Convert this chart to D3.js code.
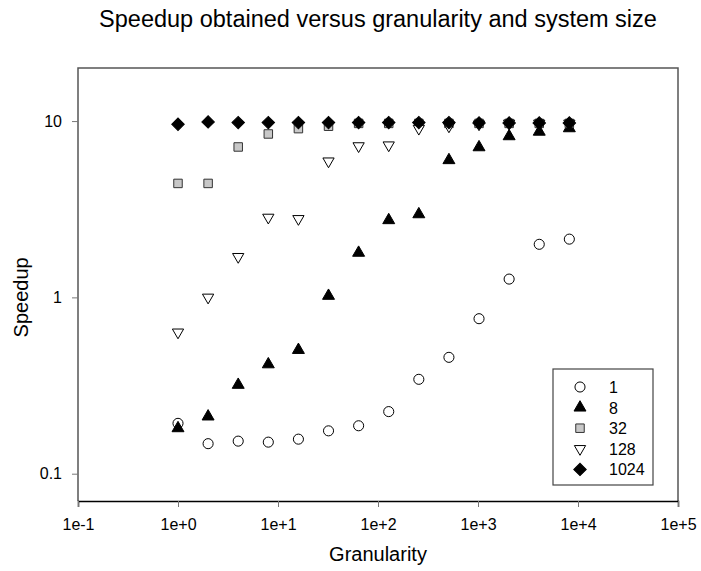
<!DOCTYPE html>
<html>
<head>
<meta charset="utf-8">
<script src="https://cdn.jsdelivr.net/npm/d3@7"></script>
<style>
  body { margin: 0; background: #fff; }
  text { font-family: "Liberation Sans", Arial, sans-serif; fill: #000; }
</style>
</head>
<body>
<svg id="chart" width="701" height="571"></svg>
<script>
// granularity (x) values, powers of two
var granularity = [1, 2, 4, 8, 16, 32, 64, 128, 256, 512, 1024, 2048, 4096, 8192];

// speedup per system size
var size1    = [0.193, 0.148, 0.153, 0.151, 0.157, 0.175, 0.187, 0.225, 0.343, 0.457, 0.757, 1.27, 2.0, 2.14];
var size8    = [0.181, 0.211, 0.319, 0.417, 0.503, 1.02, 1.79, 2.74, 2.96, 6.0, 7.1, 8.2, 8.7, 9.1];
var size32   = [4.43, 4.43, 7.13, 8.45, 9.06, 9.35, 9.7, 9.7, 9.7, 9.7, 9.7, 9.7, 9.7, 9.7];
var size128  = [0.634, 1.0, 1.70, 2.84, 2.79, 5.92, 7.22, 7.3, 9.07, 9.35, 9.6, 9.7, 9.7, 9.7];
var size1024 = [9.59, 9.89, 9.8, 9.8, 9.8, 9.8, 9.8, 9.8, 9.8, 9.8, 9.75, 9.75, 9.75, 9.75];

var seriesNames = ["1", "8", "32", "128", "1024"];
var xTicks = [0.1, 1, 10, 100, 1000, 10000, 100000];
var yTicks = [0.1, 1, 10];

var chartView = (function () {
    var svg = d3.select("#chart");
    var mLeft = 78, mRight = 678, mTop = 68, mBottom = 501;

    var x = d3.scaleLog().domain([0.1, 1e5]).range([mLeft, mRight]);
    var y = d3.scaleLog().domain([0.07, 20]).range([mBottom, mTop]);

    // marker styles
    var styles = [
        {type: d3.symbolCircle, size: 80, rot: 0, fill: "#fff", stroke: "#000"},
        {type: d3.symbolTriangle, size: 62, rot: 0, fill: "#000", stroke: "#000"},
        {type: d3.symbolSquare, size: 72, rot: 0, fill: "#c8c8c8", stroke: "#333"},
        {type: d3.symbolTriangle, size: 55, rot: 180, fill: "#fff", stroke: "#000"},
        {type: d3.symbolSquare, size: 78, rot: 45, fill: "#000", stroke: "#000"}
    ];
    var allSeries = [size1, size8, size32, size128, size1024];

    // frame
    svg.append("path")
        .attr("d", "M" + mLeft + "," + mBottom + "V" + mTop + "H" + mRight + "V" + mBottom)
        .attr("fill", "none")
        .attr("stroke", "#555")
        .attr("stroke-width", 1.5);

    var xAxis = svg.append("g")
        .attr("transform", "translate(0," + mBottom + ")")
        .call(d3.axisBottom(x).tickValues(xTicks).tickFormat(d3.format(".0e")).tickSize(6).tickPadding(12));
    xAxis.select(".domain").attr("stroke", "#000").attr("stroke-width", 1.5);
    xAxis.selectAll(".tick line").attr("stroke", "#777");
    xAxis.selectAll("text").style("font-size", "16px").attr("fill", "#000");

    var yAxis = svg.append("g")
        .attr("transform", "translate(" + mLeft + ",0)")
        .call(d3.axisLeft(y).tickValues(yTicks).tickFormat(d3.format("~g")).tickSize(6).tickPadding(10));
    yAxis.select(".domain").remove();
    yAxis.selectAll(".tick line").attr("stroke", "#777");
    yAxis.selectAll("text").style("font-size", "16px").attr("fill", "#000");

    // titles
    svg.append("text")
        .attr("x", (mLeft + mRight) / 2).attr("y", 27)
        .attr("text-anchor", "middle")
        .style("font-size", "23.5px")
        .text("Speedup obtained versus granularity and system size");

    svg.append("text")
        .attr("x", (mLeft + mRight) / 2).attr("y", 561)
        .attr("text-anchor", "middle")
        .style("font-size", "20px")
        .text("Granularity");

    svg.append("text")
        .attr("transform", "translate(28," + y(1) + ") rotate(-90)")
        .attr("text-anchor", "middle")
        .style("font-size", "20px")
        .text("Speedup");

    // points
    allSeries.forEach(function (vals, i) {
        var st = styles[i];
        var sym = d3.symbol().type(st.type).size(st.size);
        svg.append("g")
            .selectAll("path")
            .data(vals)
            .enter()
            .append("path")
            .attr("d", sym)
            .attr("transform", function (d, j) {
                return "translate(" + x(granularity[j]) + "," + y(d) + ") rotate(" + st.rot + ")";
            })
            .attr("fill", st.fill)
            .attr("stroke", st.stroke)
            .attr("stroke-width", 1);
    });

    // legend
    var lg = svg.append("g").attr("transform", "translate(553,369)");
    lg.append("rect")
        .attr("width", 100).attr("height", 116)
        .attr("fill", "#fff").attr("stroke", "#444").attr("stroke-width", 1.2);
    seriesNames.forEach(function (name, i) {
        var st = styles[i];
        var sym = d3.symbol().type(st.type).size(st.size);
        var cy = 18 + i * 20.6;
        lg.append("path")
            .attr("d", sym)
            .attr("transform", "translate(27," + cy + ") rotate(" + st.rot + ")")
            .attr("fill", st.fill)
            .attr("stroke", st.stroke);
        lg.append("text")
            .attr("x", 56).attr("y", cy + 6)
            .style("font-size", "16px")
            .text(name);
    });

    return {x: x, y: y};
})();
</script>
</body>
</html>
